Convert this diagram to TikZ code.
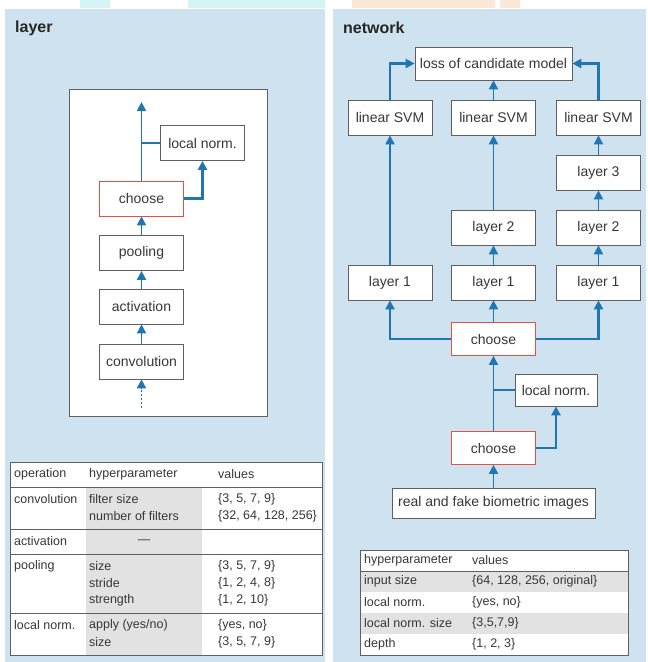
\documentclass[tikz,border=0pt]{standalone}
\usepackage{fontspec}
\setmainfont{Liberation Sans}
\usetikzlibrary{arrows.meta}
\definecolor{panel}{RGB}{206,226,239}
\definecolor{arrowblue}{RGB}{32,118,176}
\definecolor{choosered}{RGB}{226,82,64}
\definecolor{boxgray}{RGB}{95,95,95}
\definecolor{txt}{RGB}{55,55,55}
\definecolor{cellgray}{RGB}{226,226,226}
\definecolor{stripc}{RGB}{214,244,246}
\definecolor{stripo}{RGB}{252,232,214}
\begin{document}
\begin{tikzpicture}[x=1pt,y=-1pt,
  box/.style={draw=boxgray, fill=white, line width=0.7pt, minimum width=84pt, minimum height=35pt, inner sep=0pt, text=txt, font=\fontsize{14}{16}\selectfont},
  choosebox/.style={box, draw=choosered},
  arr/.style={draw=arrowblue, line width=1.8pt, -{Triangle[length=9pt,width=9pt]}},
  arrthick/.style={arr, line width=2.5pt},
  link/.style={draw=arrowblue, line width=1.6pt},
  title/.style={anchor=west, inner sep=0pt, text=black!85, font=\fontsize{16}{18}\selectfont\bfseries},
  cell/.style={anchor=west, inner sep=0pt, text=txt, font=\fontsize{12.5}{15}\selectfont},
  rule/.style={draw=boxgray, line width=0.7pt}]
\useasboundingbox (0,0) rectangle (648,662);
% top strip
\fill[stripc] (80,0) rectangle (110,8);
\fill[stripc] (188,0) rectangle (325,8);
\fill[stripo] (352,0) rectangle (495,8);
\fill[stripo] (500,0) rectangle (520,8);
% panels
\fill[panel] (5,9) rectangle (325,662);
\fill[panel] (333,9) rectangle (646,662);
\node[title] (tlayer) at (15,28) {layer};
\node[title] (tnet) at (343,28) {network};

% ---------- layer ----------
\draw[draw=boxgray, fill=white, line width=0.7pt] (69,89) rectangle (267,416);
\node[box] (lnorm) at (202.5,143) {local norm.};
\node[choosebox] (ch) at (141.5,198.5) {choose};
\node[box] (pool) at (141.5,253) {pooling};
\node[box] (act) at (141.5,306.5) {activation};
\node[box] (conv) at (141.5,361.5) {convolution};
\coordinate (lin) at (141.5,408);
\coordinate (lout) at (141.5,102);
\draw[arr, dash pattern=on 2pt off 2pt] (lin) -- (conv.south);
\draw[arr] (conv) -- (act);
\draw[arr] (act) -- (pool);
\draw[arr] (pool) -- (ch);
\draw[arr] (ch.north) -- (lout);
\draw[link] (lnorm.west) -- (lnorm.west -| ch.north);
\draw[arrthick] (ch.east) -| (lnorm.south);

% ---------- layer table ----------
\fill[white] (10,462) rectangle (322,655);
\fill[cellgray] (86,487) rectangle (202,655);
\draw[rule] (10,462) rectangle (322,655);
\foreach \yy in {487,529,554,613} \draw[rule] (10,\yy) -- (322,\yy);
\node[cell] (h1) at (14,474.5) {operation};
\node[cell] (h2) at (89,474.5) {hyperparameter};
\node[cell] (h3) at (218,474.5) {values};
\node[cell] (c1) at (14,499.5) {convolution};
\node[cell] (c2) at (89,499.5) {filter size};
\node[cell] (c3) at (218,499.5) {\{3, 5, 7, 9\}};
\node[cell] (c4) at (89,516.5) {number of filters};
\node[cell] (c5) at (218,516.5) {\{32, 64, 128, 256\}};
\node[cell] (a1) at (14,541.5) {activation};
\node[cell, anchor=center] (a2) at (144,541.5) {—};
\node[cell] (p1) at (14,566.5) {pooling};
\node[cell] (p2) at (89,566.5) {size};
\node[cell] (p3) at (218,566.5) {\{3, 5, 7, 9\}};
\node[cell] (p4) at (89,583.5) {stride};
\node[cell] (p5) at (218,583.5) {\{1, 2, 4, 8\}};
\node[cell] (p6) at (89,600.5) {strength};
\node[cell] (p7) at (218,600.5) {\{1, 2, 10\}};
\node[cell] (n1) at (14,625.5) {local norm.};
\node[cell] (n2) at (89,625.5) {apply (yes/no)};
\node[cell] (n3) at (218,625.5) {\{yes, no\}};
\node[cell] (n4) at (89,642.5) {size};
\node[cell] (n5) at (218,642.5) {\{3, 5, 7, 9\}};

% ---------- network ----------
\node[box, minimum width=157pt, minimum height=33pt] (loss) at (493.5,63.5) {loss of candidate model};
\node[box] (svmA) at (390,117.5) {linear SVM};
\node[box] (svmB) at (493.5,117.5) {linear SVM};
\node[box] (svmC) at (598.5,117.5) {linear SVM};
\node[box] (l3C) at (598.5,172.5) {layer 3};
\node[box] (l2B) at (493.5,227.5) {layer 2};
\node[box] (l2C) at (598.5,227.5) {layer 2};
\node[box] (l1A) at (390,282.5) {layer 1};
\node[box] (l1B) at (493.5,282.5) {layer 1};
\node[box] (l1C) at (598.5,282.5) {layer 1};
\node[choosebox, minimum height=33pt] (chU) at (493.5,339) {choose};
\node[box, minimum width=82pt, minimum height=32pt] (lnR) at (556,390) {local norm.};
\node[choosebox, minimum height=33pt] (chL) at (493.5,448) {choose};
\node[box, minimum width=203pt, minimum height=30pt] (real) at (493.5,503) {real and fake biometric images};

\draw[arr] (real) -- (chL);
\draw[arr] (chL) -- (chU);
\draw[link] (lnR.west) -- (lnR.west -| chL.north);
\draw[arrthick] (chL.east) -| (lnR.south);
\draw[arr] (chU) -- (l1B);
\draw[arrthick] (chU.west) -| (l1A.south);
\draw[arrthick] (chU.east) -| (l1C.south);
\draw[arr] (l1A) -- (svmA);
\draw[arr] (l1B) -- (l2B);
\draw[arr] (l2B) -- (svmB);
\draw[arr] (l1C) -- (l2C);
\draw[arr] (l2C) -- (l3C);
\draw[arr] (l3C) -- (svmC);
\draw[arr] (svmB) -- (loss);
\draw[arrthick] (svmA.north) |- (loss.west);
\draw[arrthick] (svmC.north) |- (loss.east);

% ---------- network table ----------
\fill[white] (360,550) rectangle (628,655);
\fill[cellgray] (360,571) rectangle (628,592);
\fill[cellgray] (360,613) rectangle (628,634);
\draw[rule] (360,550) rectangle (628,655);
\draw[rule] (360,571) -- (628,571);
\node[cell] (r1) at (364,560.5) {hyperparameter};
\node[cell] (r2) at (472,560.5) {values};
\node[cell] (r3) at (364,581.5) {input size};
\node[cell] (r4) at (472,581.5) {\{64, 128, 256, original\}};
\node[cell] (r5) at (364,602.5) {local norm.};
\node[cell] (r6) at (472,602.5) {\{yes, no\}};
\node[cell] (r7) at (364,623.5) {local norm. size};
\node[cell] (r8) at (472,623.5) {\{3,5,7,9\}};
\node[cell] (r9) at (364,644.5) {depth};
\node[cell] (r10) at (472,644.5) {\{1, 2, 3\}};
\end{tikzpicture}
\end{document}
